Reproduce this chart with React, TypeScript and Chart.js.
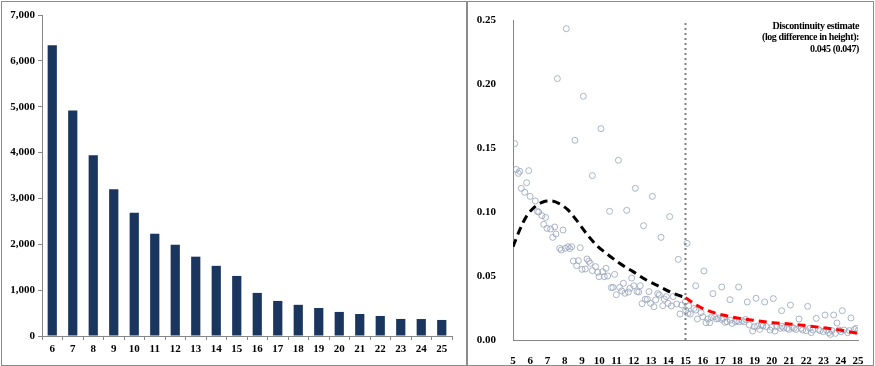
import React, { useEffect, useRef } from "react";
import { Chart, registerables } from "chart.js";

Chart.register(...registerables);

// ---------- Left panel: bar chart ----------
const barCategories = ["6","7","8","9","10","11","12","13","14","15","16","17","18","19","20","21","22","23","24","25"];
const barValues = [6340, 4920, 3940, 3200, 2690, 2230, 1990, 1730, 1530, 1310, 940, 765, 680, 610, 525, 480, 437, 372, 370, 350];

// ---------- Right panel: scatter + fitted curves ----------
const scatterX = [
  5.10,5.19,5.31,5.39,5.48,5.68,5.79,5.91,5.99,6.29,6.41,6.49,6.68,6.78,6.89,6.97,7.18,7.30,7.42,7.49,
  7.57,7.71,7.80,7.90,8.03,8.09,8.19,8.29,8.40,8.50,8.59,8.69,8.79,8.90,9.00,9.08,9.19,9.29,9.39,9.48,
  9.60,9.60,9.79,9.91,9.99,10.10,10.20,10.29,10.39,10.49,10.60,10.70,10.80,10.89,10.99,11.11,11.18,11.30,11.40,11.49,
  11.59,11.69,11.78,11.88,12.00,12.09,12.19,12.29,12.38,12.48,12.57,12.67,12.79,12.88,12.98,13.08,13.17,13.27,13.39,13.48,
  13.58,13.68,13.77,13.89,13.99,14.08,14.18,14.28,14.49,14.58,14.68,14.78,14.99,15.01,15.09,15.14,15.18,15.28,15.49,15.59,
  15.59,15.69,15.90,16.00,16.07,16.19,16.29,16.40,16.50,16.59,16.69,16.79,16.90,17.10,17.10,17.19,17.29,17.41,17.58,17.60,
  17.70,17.89,17.99,18.08,18.10,18.29,18.39,18.49,18.58,18.70,18.89,18.99,19.09,19.18,19.30,19.40,19.49,19.59,19.69,19.90,
  20.00,20.09,20.19,20.29,20.50,20.57,20.59,20.69,20.90,21.00,21.08,21.19,21.29,21.41,21.58,21.70,21.79,21.99,22.08,22.20,
  22.29,22.39,22.58,22.70,22.80,22.99,23.09,23.18,23.30,23.40,23.49,23.59,23.69,23.78,23.90,24.00,24.09,24.19,24.40,24.50,
  24.59,24.79,24.90,25.00
];
const scatterY = [
  0.1534,0.1333,0.1302,0.1318,0.1185,0.1154,0.1229,0.1323,0.1122,0.1086,0.1005,0.1000,0.0971,0.0904,0.0958,0.0872,0.0867,0.0802,0.0883,0.0828,
  0.2042,0.0716,0.0703,0.0859,0.0716,0.2432,0.0729,0.0714,0.0729,0.0617,0.1560,0.0581,0.0620,0.0721,0.0552,0.1904,0.0555,0.0633,0.0615,0.0599,
  0.0542,0.1284,0.0573,0.0529,0.0495,0.1651,0.0534,0.0495,0.0560,0.0500,0.1005,0.0409,0.0411,0.0513,0.0354,0.1404,0.0411,0.0383,0.0443,0.0365,
  0.1013,0.0375,0.0404,0.0484,0.0424,0.1185,0.0378,0.0375,0.0424,0.0284,0.0893,0.0318,0.0318,0.0378,0.0286,0.1122,0.0260,0.0313,0.0362,0.0352,
  0.0802,0.0268,0.0320,0.0339,0.0286,0.0964,0.0266,0.0339,0.0281,0.0630,0.0203,0.0273,0.0299,0.0234,0.0755,0.0208,0.0266,0.0203,0.0247,0.0234,
  0.0424,0.0164,0.0214,0.0182,0.0539,0.0135,0.0164,0.0135,0.0177,0.0362,0.0182,0.0164,0.0169,0.0161,0.0414,0.0169,0.0138,0.0143,0.0315,0.0156,
  0.0130,0.0143,0.0151,0.0414,0.0141,0.0151,0.0141,0.0161,0.0297,0.0117,0.0070,0.0104,0.0326,0.0109,0.0083,0.0117,0.0109,0.0297,0.0104,0.0078,
  0.0099,0.0323,0.0070,0.0104,0.0091,0.0229,0.0107,0.0094,0.0091,0.0083,0.0273,0.0099,0.0091,0.0083,0.0164,0.0091,0.0078,0.0073,0.0263,0.0091,
  0.0057,0.0078,0.0169,0.0083,0.0073,0.0065,0.0195,0.0078,0.0057,0.0044,0.0073,0.0195,0.0052,0.0133,0.0078,0.0065,0.0229,0.0078,0.0057,0.0073,
  0.0172,0.0083,0.0091,0.0073
];

const fitLeftX = [5.0, 5.39, 5.77, 6.26, 6.74, 7.22, 7.71, 8.19, 8.67, 9.25, 9.83, 10.41, 11.18, 11.96, 12.73, 13.5, 14.28, 15.0];
const fitLeftY = [0.0729, 0.086, 0.0964, 0.104, 0.1078, 0.1086, 0.1063, 0.1016, 0.0938, 0.0833, 0.0742, 0.0677, 0.0599, 0.0534, 0.0469, 0.0417, 0.0365, 0.0331];
const fitRightX = [15.0, 15.63, 16.2, 17.17, 18.14, 19.1, 20.07, 21.04, 22.0, 22.97, 23.94, 25.0];
const fitRightY = [0.0331, 0.0273, 0.0234, 0.0195, 0.0169, 0.0151, 0.0135, 0.0125, 0.0112, 0.0096, 0.0078, 0.0052];

const cutoffX = 15;
const annotationLines = ["Discontinuity estimate", "(log difference in height):", "0.045 (0.047)"];

const FONT_FAMILY = "'Liberation Serif', 'Times New Roman', serif";
const AXIS_GRAY = "#868686";

function pairs(xs: number[], ys: number[]) {
  return xs.map((x, i) => ({ x, y: ys[i] }));
}

export default function App() {
  const leftRef = useRef<HTMLCanvasElement>(null);
  const rightRef = useRef<HTMLCanvasElement>(null);

  useEffect(() => {
    const tickFont = { family: FONT_FAMILY, size: 11, weight: "bold" as const };

    const left = new Chart(leftRef.current!, {
      type: "bar",
      data: {
        labels: barCategories,
        datasets: [
          {
            data: barValues,
            backgroundColor: "#1a365f",
            borderWidth: 0,
            categoryPercentage: 1,
            barPercentage: 0.45,
          },
        ],
      },
      options: {
        animation: false,
        responsive: false,
        devicePixelRatio: 1,
        layout: { padding: { top: 13, right: 14, left: 0, bottom: 0 } },
        plugins: { legend: { display: false }, tooltip: { enabled: false } },
        scales: {
          x: {
            grid: { display: true, drawOnChartArea: false, drawTicks: true, tickLength: 4, color: AXIS_GRAY, offset: true },
            border: { display: true, color: AXIS_GRAY, width: 1 },
            ticks: { font: tickFont, color: "#000", padding: 3, maxRotation: 0, autoSkip: false },
            afterFit: (s: any) => { s.height = 29; },
          },
          y: {
            min: 0,
            max: 7000,
            grid: { display: true, drawOnChartArea: false, drawTicks: true, tickLength: 4, color: AXIS_GRAY },
            border: { display: true, color: AXIS_GRAY, width: 1 },
            ticks: {
              stepSize: 1000,
              font: tickFont,
              color: "#000",
              padding: 3,
              callback: (v: any) => Number(v).toLocaleString("en-US"),
            },
            afterFit: (s: any) => { s.width = 40; },
          },
        },
      },
    });

    const annotationPlugin = {
      id: "discAnnotation",
      afterDraw(chart: any) {
        const ctx = chart.ctx;
        ctx.save();
        ctx.font = `bold 10px ${FONT_FAMILY}`;
        ctx.fillStyle = "#000";
        ctx.textAlign = "right";
        ctx.textBaseline = "middle";
        try { (ctx as any).letterSpacing = "-0.4px"; } catch (e) {}
        const xRight = chart.chartArea.right + 1;
        annotationLines.forEach((t, i) => {
          ctx.fillText(t, xRight, 24 + i * 11.5);
        });
        ctx.restore();
      },
    };

    const right = new Chart(rightRef.current!, {
      type: "scatter",
      data: {
        datasets: [
          {
            type: "line",
            data: [{ x: cutoffX, y: 0 }, { x: cutoffX, y: 0.25 }],
            borderColor: "#7f7f7f",
            borderWidth: 2,
            borderDash: [2, 3],
            pointRadius: 0,
            showLine: true,
            order: 3,
          } as any,
          {
            data: pairs(scatterX, scatterY),
            pointStyle: "circle",
            pointRadius: 3,
            borderWidth: 1,
            borderColor: "rgba(150,163,186,0.8)",
            backgroundColor: "rgba(0,0,0,0)",
            showLine: false,
            order: 4,
          },
          {
            type: "line",
            data: pairs(fitLeftX, fitLeftY),
            borderColor: "#000000",
            borderWidth: 3,
            borderDash: [8, 5],
            pointRadius: 0,
            cubicInterpolationMode: "monotone",
            showLine: true,
            order: 1,
          } as any,
          {
            type: "line",
            data: pairs(fitRightX, fitRightY),
            borderColor: "#ff0000",
            borderWidth: 3,
            borderDash: [8, 5],
            pointRadius: 0,
            cubicInterpolationMode: "monotone",
            showLine: true,
            order: 2,
          } as any,
        ],
      },
      options: {
        animation: false,
        responsive: false,
        devicePixelRatio: 1,
        layout: { padding: { top: 18, right: 15, left: 0, bottom: 0 } },
        plugins: { legend: { display: false }, tooltip: { enabled: false } },
        scales: {
          x: {
            type: "linear",
            min: 5,
            max: 25,
            grid: { display: false },
            border: { display: true, color: AXIS_GRAY, width: 1 },
            ticks: { stepSize: 1, font: tickFont, color: "#000", padding: 7, maxRotation: 0, autoSkip: false },
            afterFit: (s: any) => { s.height = 25; },
          },
          y: {
            min: 0,
            max: 0.25,
            grid: { display: false },
            border: { display: true, color: AXIS_GRAY, width: 1 },
            ticks: {
              stepSize: 0.05,
              font: tickFont,
              color: "#000",
              padding: 9,
              callback: (v: any) => Number(v).toFixed(2),
            },
            afterFit: (s: any) => { s.width = 45; },
          },
        },
      },
      plugins: [annotationPlugin],
    });

    return () => {
      left.destroy();
      right.destroy();
    };
  }, []);

  const panel: React.CSSProperties = {
    position: "absolute",
    top: 1,
    height: 363,
    border: "1px solid #8c8c8c",
    background: "#fff",
  };

  return (
    <div style={{ position: "absolute", left: 0, top: 0, width: 875, height: 366, background: "#fff" }}>
      <div style={{ ...panel, left: 1, width: 464 }}>
        <canvas ref={leftRef} width={464} height={363} style={{ display: "block", width: 464, height: 363 }} />
      </div>
      <div style={{ ...panel, left: 467, width: 405 }}>
        <canvas ref={rightRef} width={405} height={363} style={{ display: "block", width: 405, height: 363 }} />
      </div>
    </div>
  );
}
